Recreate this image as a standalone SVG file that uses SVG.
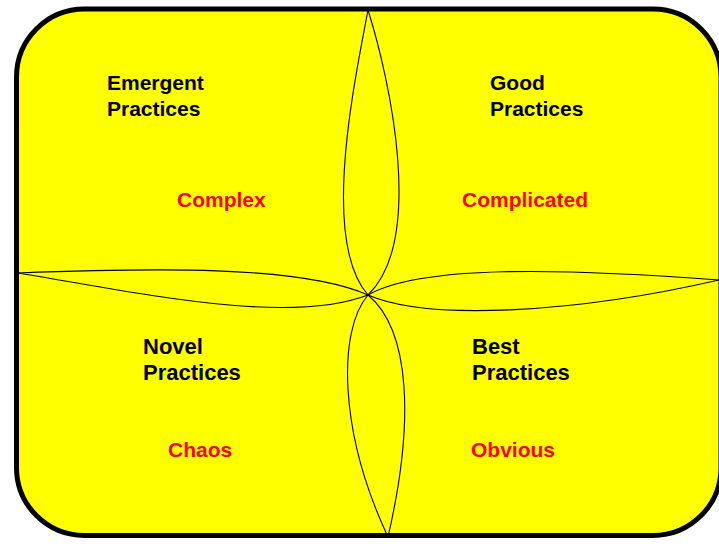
<svg xmlns="http://www.w3.org/2000/svg" width="719" height="544" viewBox="0 0 719 544">
  <style>
    .frame { fill: #ffff00; stroke: #000; stroke-width: 5; }
    .petal { fill: none; stroke: #000; stroke-width: 1.1; }
    .label { font-family: "Liberation Sans", Arial, sans-serif; font-weight: bold; font-size: 21px; }
    .big { font-size: 22px; }
    .practice { fill: #000; }
    .domain { fill: #ff0000; }
  </style>
  <rect width="719" height="544" fill="#ffffff"/>
  <!-- rounded yellow frame -->
  <rect id="frame" class="frame" x="16.5" y="9" width="704.5" height="526.5" rx="68" ry="68"/>

  <!-- four petals meeting at the centre -->
  <g id="petals">
    <path class="petal" d="M368,10 C355,80 320,240 368,295"/>
    <path class="petal" d="M368,10 C390,80 425,240 368,295"/>
    <path class="petal" d="M368,295 C338,330 338,430 388,537"/>
    <path class="petal" d="M368,295 C410,330 415,420 388,537"/>
    <path class="petal" d="M18,273 C150,268 300,265 368,295"/>
    <path class="petal" d="M18,273 C150,295 290,325 368,295"/>
    <path class="petal" d="M368,295 C420,265 560,268 719,280"/>
    <path class="petal" d="M368,295 C430,322 580,312 719,280"/>
  </g>

  <g id="complex">
    <text class="label practice" x="107" y="90">Emergent</text>
    <text class="label practice" x="107" y="116">Practices</text>
    <text class="label domain" x="177" y="207">Complex</text>
  </g>
  <g id="complicated">
    <text class="label practice" x="490" y="90">Good</text>
    <text class="label practice" x="490" y="116">Practices</text>
    <text class="label domain" x="462" y="207">Complicated</text>
  </g>
  <g id="chaos">
    <text class="label big practice" x="143" y="354">Novel</text>
    <text class="label big practice" x="143" y="380">Practices</text>
    <text class="label domain" x="168" y="457">Chaos</text>
  </g>
  <g id="obvious">
    <text class="label big practice" x="472" y="354">Best</text>
    <text class="label big practice" x="472" y="380">Practices</text>
    <text class="label domain" x="471" y="457">Obvious</text>
  </g>
</svg>
